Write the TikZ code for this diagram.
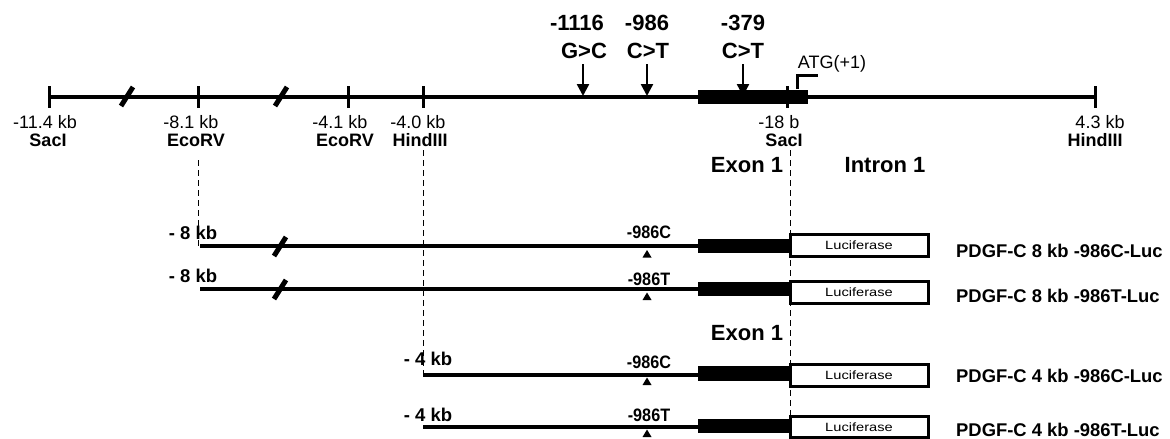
\documentclass[tikz,border=0pt]{standalone}
\usepackage{fontspec}
\usepackage{graphicx}
\setmainfont{Liberation Sans}
\usetikzlibrary{arrows.meta}
\tikzset{
  dna/.style={line width=3.5pt},
  tickmark/.style={line width=3pt},
  brk/.style={line width=5pt},
  guide/.style={line width=1pt, dash pattern=on 6pt off 4pt},
  exonbox/.style={fill=black},
  lucbox/.style={draw, line width=3pt, fill=white},
  kbl/.style={font=\fontsize{18}{20}\selectfont, inner sep=0pt, anchor=base},
  sitel/.style={font=\bfseries\fontsize{18}{20}\selectfont, inner sep=0pt, anchor=base},
  mutl/.style={font=\bfseries\fontsize{22}{24}\selectfont, inner sep=0pt, anchor=base},
  regl/.style={font=\bfseries\fontsize{22}{24}\selectfont, inner sep=0pt, anchor=base},
  startl/.style={font=\bfseries\fontsize{18.5}{20}\selectfont, inner sep=0pt, anchor=base},
  snpl/.style={font=\bfseries\fontsize{18}{20}\selectfont, inner sep=0pt, anchor=base},
  lucl/.style={font=\fontsize{12}{14}\selectfont, inner sep=0pt},
  constl/.style={font=\bfseries\fontsize{18.4}{20}\selectfont, inner sep=0pt, anchor=base west},
  mutarrow/.style={line width=2.5pt, -{Triangle[length=12pt,width=12pt]}},
}
\newcommand{\snp}[1]{\scalebox{0.9}[1]{#1}}
\begin{document}
\begin{tikzpicture}[x=1pt,y=-1pt]
\useasboundingbox (0,0) rectangle (1170,439);

% ---------------- guide lines
\coordinate (g1a) at (198,160); \coordinate (g1b) at (198,246);
\coordinate (g2a) at (423,150); \coordinate (g2b) at (423,375);
\coordinate (g3a) at (790,150); \coordinate (g3b) at (790,439);
\draw[guide] (g1a) -- (g1b);
\draw[guide] (g2a) -- (g2b);
\draw[guide] (g3a) -- (g3b);

% ---------------- main map
\coordinate (t1) at (49,97);
\coordinate (t2) at (198,97);
\coordinate (t3) at (348,97);
\coordinate (t4) at (423,97);
\coordinate (t5) at (787,97);
\coordinate (t6) at (1095,97);
\draw[dna] (t1) -- (t6);
\fill[exonbox] (698,89.5) rectangle (808,104);
\foreach \t in {t1,t2,t3,t4,t5,t6}
  \draw[tickmark] (\t) ++(0,-11) -- ++(0,22);
\draw[brk] (121,106) -- (133,87);
\draw[brk] (275,106) -- (287,87);

% ATG bracket
\coordinate (atg0) at (797,89);
\coordinate (atg1) at (797,75);
\coordinate (atg2) at (818,75);
\draw[line width=3pt] (atg0) -- (atg1) -- (atg2);
\node[kbl] (atg) at (832,68) {ATG(+1)};

% position labels
\node[kbl] (p1) at (45,128) {-11.4 kb};
\node[sitel] (s1) at (48,146) {SacI};
\node[kbl] (p2) at (191,128) {-8.1 kb};
\node[sitel] (s2) at (196,146) {EcoRV};
\node[kbl] (p3) at (340,128) {-4.1 kb};
\node[sitel] (s3) at (345,146) {EcoRV};
\node[kbl] (p4) at (418,128) {-4.0 kb};
\node[sitel] (s4) at (420,146) {HindIII};
\node[kbl] (p5) at (779,128) {-18 b};
\node[sitel] (s5) at (784,146) {SacI};
\node[kbl] (p6) at (1100,128) {4.3 kb};
\node[sitel] (s6) at (1095,146) {HindIII};

% mutations
\node[mutl] (m1a) at (577,30) {-1116};
\node[mutl] (m1b) at (584,58) {G>C};
\node[mutl] (m2a) at (647,30) {-986};
\node[mutl] (m2b) at (648,58) {C>T};
\node[mutl] (m3a) at (743,30) {-379};
\node[mutl] (m3b) at (743,58) {C>T};
\coordinate (m1) at (583,96);
\coordinate (m2) at (647,96);
\coordinate (m3) at (743,96);
\draw[mutarrow] (583,64) -- (m1);
\draw[mutarrow] (647,64) -- (m2);
\draw[mutarrow] (743,64) -- (m3);

\node[regl] (ex1) at (747,172) {Exon 1};
\node[regl] (in1) at (885,172) {Intron 1};
\node[regl] (ex2) at (747,340) {Exon 1};

% ---------------- constructs
% row 1
\coordinate (r1s) at (200,246); \coordinate (r1e) at (698,246);
\draw[dna] (r1s) -- (r1e);
\draw[brk] (274,256) -- (286,237);
\fill[exonbox] (698,239) rectangle (790,253);
\draw[lucbox] (790,234.5) rectangle (928,256.5);
\node[lucl] (l1) at (859,245.5) {\scalebox{1.22}[1]{Luciferase}};
\node[startl] (k1) at (193,239) {- 8 kb};
\node[snpl] (n1) at (649,238) {\snp{-986C}};
\fill (647,250) -- (651.5,257.5) -- (642.5,257.5) -- cycle;
\node[constl] (c1) at (956,257) {PDGF-C 8 kb -986C-Luc};

% row 2
\coordinate (r2s) at (200,289); \coordinate (r2e) at (698,289);
\draw[dna] (r2s) -- (r2e);
\draw[brk] (274,299) -- (286,280);
\fill[exonbox] (698,282) rectangle (790,296);
\draw[lucbox] (790,281.5) rectangle (928,303.5);
\node[lucl] (l2) at (859,292.5) {\scalebox{1.22}[1]{Luciferase}};
\node[startl] (k2) at (193,282) {- 8 kb};
\node[snpl] (n2) at (649,285) {\snp{-986T}};
\fill (647,292.5) -- (651.5,300) -- (642.5,300) -- cycle;
\node[constl] (c2) at (956,302) {PDGF-C 8 kb -986T-Luc};

% row 3
\coordinate (r3s) at (423,375); \coordinate (r3e) at (698,375);
\draw[dna] (r3s) -- (r3e);
\fill[exonbox] (698,366) rectangle (790,381);
\draw[lucbox] (790,364.5) rectangle (928,386.5);
\node[lucl] (l3) at (859,375.5) {\scalebox{1.22}[1]{Luciferase}};
\node[startl] (k3) at (428,365) {- 4 kb};
\node[snpl] (n3) at (649,368) {\snp{-986C}};
\fill (647,377.5) -- (651.5,385) -- (642.5,385) -- cycle;
\node[constl] (c3) at (956,382) {PDGF-C 4 kb -986C-Luc};

% row 4
\coordinate (r4s) at (423,427); \coordinate (r4e) at (698,427);
\draw[dna] (r4s) -- (r4e);
\fill[exonbox] (698,418.5) rectangle (790,433);
\draw[lucbox] (790,416.5) rectangle (928,437.5);
\node[lucl] (l4) at (859,427) {\scalebox{1.22}[1]{Luciferase}};
\node[startl] (k4) at (428,421) {- 4 kb};
\node[snpl] (n4) at (649,421) {\snp{-986T}};
\fill (647,429.5) -- (651.5,437) -- (642.5,437) -- cycle;
\node[constl] (c4) at (956,436.5) {PDGF-C 4 kb -986T-Luc};
\end{tikzpicture}
\end{document}
